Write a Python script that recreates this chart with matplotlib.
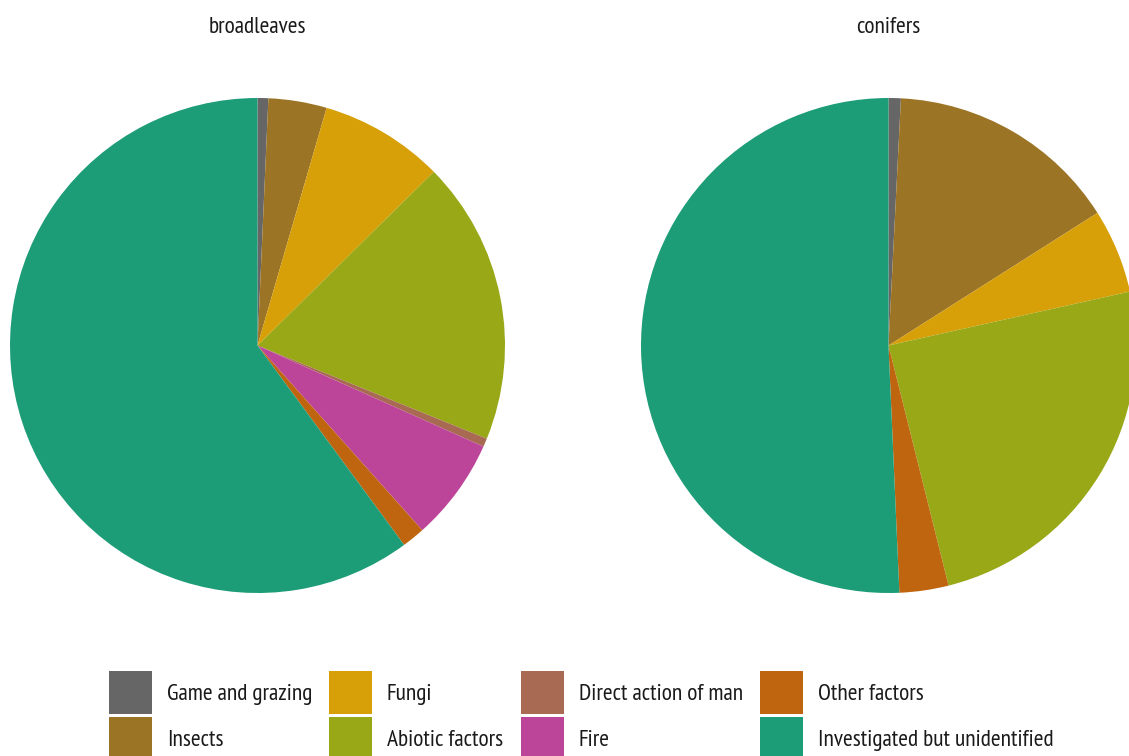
import matplotlib
matplotlib.use("Agg")
import matplotlib.pyplot as plt
from matplotlib import font_manager
from matplotlib.patches import Rectangle

names = {f.name for f in font_manager.fontManager.ttflist}
FONT = "DejaVu Sans"
for cand in ["PT Sans Narrow", "Fira Sans Condensed", "Roboto Condensed",
             "Archivo Narrow", "Liberation Sans Narrow"]:
    if cand in names:
        FONT = cand
        break
plt.rcParams['font.family'] = [FONT, 'DejaVu Sans']

categories = ["Game and grazing", "Insects", "Fungi", "Abiotic factors",
              "Direct action of man", "Fire", "Other factors",
              "Investigated but unidentified"]
colors = ["#666666", "#9c7426", "#d79f08", "#99a816",
          "#a86a53", "#bd4599", "#c0650f", "#1c9c77"]
broadleaves = [0.7, 3.8, 8.1, 18.5, 0.55, 6.7, 1.5, 60.0]
conifers = [0.8, 15.2, 5.5, 24.6, 0.0, 0.0, 3.2, 50.7]
titles = ["broadleaves", "conifers"]

W, H = 1129, 756
fig = plt.figure(figsize=(W / 100, H / 100), dpi=100)

R = 247.5
centers = [(257.5, 345.5), (888.5, 345.5)]
for (cx, cy), vals, title in zip(centers, [broadleaves, conifers], titles):
    ax = fig.add_axes([(cx - R) / W, (H - cy - R) / H, 2 * R / W, 2 * R / H])
    ax.pie(vals, colors=colors, startangle=90, counterclock=False, radius=1,
           wedgeprops=dict(linewidth=0, antialiased=True))
    ax.set_xlim(-1, 1)
    ax.set_ylim(-1, 1)
    ax.set_aspect('equal')
    ax.axis('off')
    fig.text(cx / W, 1 - 27.5 / H, title, ha='center', va='center',
             fontsize=16.8, color='#1a1a1a')

# legend (manual, column-major 4x2)
col_x = [109, 329, 521, 760]
row_y = [671, 717]
size = 42.5
for i, (lab, col) in enumerate(zip(categories, colors)):
    c, r = i // 2, i % 2
    x, y = col_x[c], row_y[r]
    fig.patches.append(Rectangle((x / W, 1 - (y + size) / H), size / W, size / H,
                                 transform=fig.transFigure, facecolor=col,
                                 edgecolor='none'))
    fig.text((x + 58) / W, 1 - (y + size / 2 + 2) / H, lab, ha='left', va='center',
             fontsize=16.8, color='#1a1a1a')

fig.savefig("out.png", dpi=100, facecolor='white')
